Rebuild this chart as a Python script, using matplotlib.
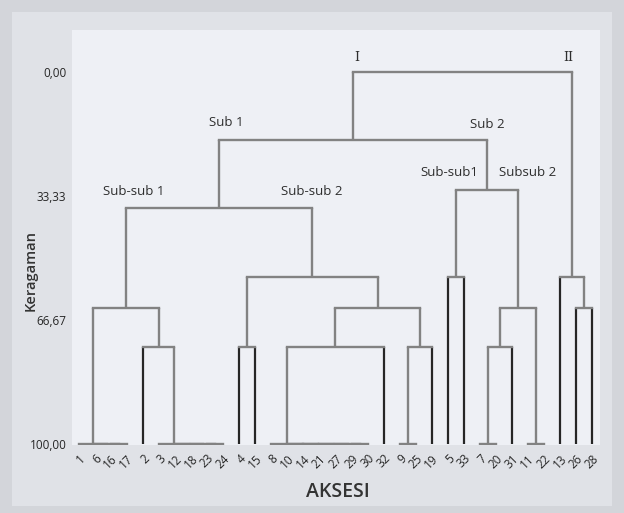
import matplotlib
matplotlib.use("Agg")
import matplotlib.pyplot as plt
from matplotlib.patches import Rectangle

# ---------------- data ----------------
leaf_order = ["1", "6", "16", "17", "2", "3", "12", "18", "23", "24", "4", "15",
              "8", "10", "14", "21", "27", "29", "30", "32", "9", "25", "19",
              "5", "33", "7", "20", "31", "11", "22", "13", "26", "28"]

# merges: (name, left child, right child, similarity %)
merges = [
    ("a1", "16", "17", 100.0), ("a2", "6", "a1", 100.0), ("A", "1", "a2", 100.0),
    ("b1", "23", "24", 100.0), ("b2", "18", "b1", 100.0), ("b3", "12", "b2", 100.0),
    ("B", "3", "b3", 100.0),
    ("C", "2", "B", 73.8),
    ("D", "A", "C", 63.5),
    ("E", "4", "15", 73.8),
    ("f1", "29", "30", 100.0), ("f2", "27", "f1", 100.0), ("f3", "21", "f2", 100.0),
    ("f4", "14", "f3", 100.0), ("f5", "10", "f4", 100.0), ("F", "8", "f5", 100.0),
    ("G", "F", "32", 73.8),
    ("h1", "9", "25", 100.0), ("H", "h1", "19", 73.8),
    ("I", "G", "H", 63.5),
    ("J", "E", "I", 55.1),
    ("K", "D", "J", 36.6),
    ("L", "5", "33", 55.1),
    ("m1", "7", "20", 100.0), ("M", "m1", "31", 73.8),
    ("n1", "11", "22", 100.0), ("N", "M", "n1", 63.5),
    ("O", "L", "N", 31.7),
    ("P", "K", "O", 18.3),
    ("Q", "26", "28", 63.5), ("R", "13", "Q", 55.1),
    ("root", "P", "R", 0.0),
]

y_ticks = [0.0, 33.33, 66.67, 100.0]
y_tick_labels = ["0,00", "33,33", "66,67", "100,00"]

# annotation texts and positions (x in leaf-index units, y in similarity %)
ann_text = ["I", "II", "Sub 1", "Sub 2", "Sub-sub 1", "Sub-sub 2", "Sub-sub1", "Subsub 2"]
ann_x = [17.3, 30.5, 9.2, 25.45, 3.4, 14.5, 23.1, 27.95]
ann_y = [-3.8, -3.8, 13.7, 14.2, 32.2, 32.2, 27.1, 27.1]
ann_serif = [True, True, False, False, False, False, False, False]

# ---------------- figure ----------------
fig = plt.figure(figsize=(6.24, 5.13), dpi=100)
fig.patch.set_facecolor("#d3d5da")
fig.patches.append(Rectangle((12 / 624, 1 - 506 / 513), 600 / 624, 494 / 513,
                             transform=fig.transFigure, facecolor="#e0e2e7",
                             edgecolor="none", zorder=-5))
ax = fig.add_axes([72 / 624, 1 - 445 / 513, 528 / 624, 415 / 513])
ax.set_zorder(1)
ax.set_facecolor("#eef0f5")

pos = {name: float(i) for i, name in enumerate(leaf_order)}
height = {name: 100.0 for name in leaf_order}
leaves = set(leaf_order)

gray = "#828282"
dark = "#262626"

for name, left, right, sim in merges:
    xl, xr = pos[left], pos[right]
    for child in (left, right):
        c = dark if child in leaves else gray
        lw = 1.6 if child in leaves else 1.7
        if height[child] != sim:
            ax.plot([pos[child], pos[child]], [height[child], sim], color=c,
                    lw=lw, solid_capstyle="butt", zorder=2)
    ax.plot([xl, xr], [sim, sim], color=gray, lw=1.7, solid_capstyle="projecting",
            zorder=2)
    pos[name] = (xl + xr) / 2.0
    height[name] = sim

ax.set_xlim(-0.424, 32.49)
ax.set_ylim(100.27, -11.29)

ax.set_xticks(range(len(leaf_order)))
ax.set_xticklabels(leaf_order, rotation=45, ha="right", va="top",
                   rotation_mode="anchor", fontsize=8.5, color="#262626",
                   family="Open Sans")
ax.set_yticks(y_ticks)
ax.set_yticklabels(y_tick_labels, fontsize=8.5, color="#262626", family="Open Sans")
ax.tick_params(axis="both", length=0)
ax.tick_params(axis="x", pad=5)
ax.tick_params(axis="y", pad=4)
for s in ax.spines.values():
    s.set_visible(False)

ax.set_xlabel("AKSESI", fontsize=14, fontweight="semibold", color="#333333",
              family="Open Sans")
ax.xaxis.set_label_coords((338 - 72) / 528, -0.088)
ax.set_ylabel("Keragaman", fontsize=10.5, fontweight="semibold", color="#333333",
              family="Open Sans")
ax.yaxis.set_label_coords(-0.066, 0.42)

for t, x, y, serif in zip(ann_text, ann_x, ann_y, ann_serif):
    ax.text(x, y, t, ha="center", va="center",
            fontsize=9 if serif else 9.5,
            family="DejaVu Serif" if serif else "Open Sans",
            color="#2e2e2e", zorder=3)

fig.savefig("out.png", dpi=100, facecolor=fig.get_facecolor())
